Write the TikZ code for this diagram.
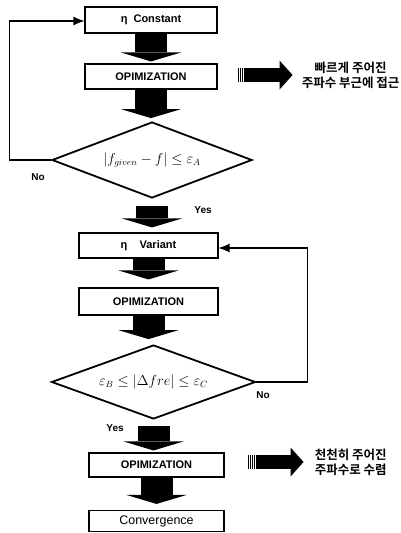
\documentclass[tikz,border=0pt]{standalone}
\usepackage{fontspec}
\setmainfont{Liberation Sans}
\newfontfamily\krfont{Noto Sans CJK KR}[BoldFont={Noto Sans CJK KR Bold}]
\usetikzlibrary{shapes.geometric,arrows.meta}

\begin{document}
\begin{tikzpicture}[x=1pt,y=-1pt,
  box/.style={draw,line width=1.1pt,minimum width=132pt,minimum height=25pt,inner sep=0pt,
    font=\fontsize{11}{13}\selectfont\bfseries},
  test/.style={draw,diamond,line width=1.8pt,inner sep=0pt,aspect=2.6,font=\fontsize{13.5}{15}\selectfont},
  fat/.style={line width=32pt,-{Triangle[width=60pt,length=9pt,line width=0pt]}},
  side/.style={line width=14pt,-{Triangle[width=29pt,length=13pt,line width=0pt]}},
  stripes/.style={line width=14pt,dash pattern=on 1.2pt off 1pt},
  back/.style={line width=1.1pt,-{Latex[length=11pt,width=9pt]}},
  lbl/.style={font=\fontsize{10}{12}\selectfont\bfseries},
  note/.style={font=\krfont\bfseries\fontsize{12.5}{15}\selectfont,align=center,inner sep=0pt}]
\useasboundingbox (0,0) rectangle (401,533);

% first stage: eta held constant
\node[box,minimum height=26pt] (const) at (151,20) {η\ \ Constant};
\node[box] (opt1) at (151,76.5) {OPIMIZATION};
\node[test,minimum width=200pt,minimum height=76pt] (dec1) at (152,160)
  {$\left|f_{given}-f\right|\le\varepsilon_A$};

% second stage: eta varied
\node[box,minimum width=139pt] (var) at (148.5,245.5) {η\ \ \ \ Variant};
\node[box,minimum width=139pt,minimum height=27pt] (opt2) at (148.5,301.5) {OPIMIZATION};
\node[test,minimum width=204pt,minimum height=74pt] (dec2) at (153.5,382)
  {$\varepsilon_B\le\left|\Delta fre\right|\le\varepsilon_C$};

% last stage
\node[box,minimum width=135pt,minimum height=24pt] (opt3) at (156.5,465) {OPIMIZATION};
\node[box,minimum width=135pt,minimum height=21pt,font=\fontsize{12.5}{14}\selectfont] (conv) at (156.5,521) {Convergence};

% block arrows down the main column
\draw[fat,shorten >=2pt] (const.south) -- (opt1.north);
\draw[fat,shorten >=3pt] (opt1.south) -- (opt1.south |- dec1.north);
\draw[fat,shorten <=7pt,shorten >=5pt] (dec1.south) -- (dec1.south |- var.north);
\draw[fat,shorten >=8pt] (var.south) -- (opt2.north);
\draw[fat,shorten >=5pt] (opt2.south) -- (opt2.south |- dec2.north);
\draw[fat,shorten <=6pt,shorten >=2pt] (dec2.south) -- (dec2.south |- opt3.north);
\draw[fat,shorten >=6pt] (opt3.south) -- (conv.north);

% No branches go back up
\draw[back] (dec1.west) -- ++(-42,0) |- ([yshift=-1pt]const.west);
\draw[back] (dec2.east) -- ++(51,0) |- ([yshift=-2.5pt]var.east);

\node[lbl] (no1) at (38,177) {No};
\node[lbl] (yes1) at (203,210) {Yes};
\node[lbl] (no2) at (263,395) {No};
\node[lbl] (yes2) at (115,428) {Yes};

% side notes with striped arrows
\coordinate (s1) at ([xshift=20pt,yshift=1.5pt]opt1.east);
\draw[stripes] (s1) -- ++(7,0);
\draw[side] ([xshift=7pt]s1) -- ++(48,0) coordinate (t1);
\node[note,anchor=west] (n1) at ([xshift=9pt]t1) {빠르게 주어진\\주파수 부근에 접근};

\coordinate (s2) at ([xshift=23pt,yshift=3pt]opt3.east);
\draw[stripes] (s2) -- ++(9,0);
\draw[side] ([xshift=9pt]s2) -- ++(47,0) coordinate (t2);
\node[note,anchor=west] (n2) at ([xshift=11pt]t2) {천천히 주어진\\주파수로 수렴};
\end{tikzpicture}
\end{document}
